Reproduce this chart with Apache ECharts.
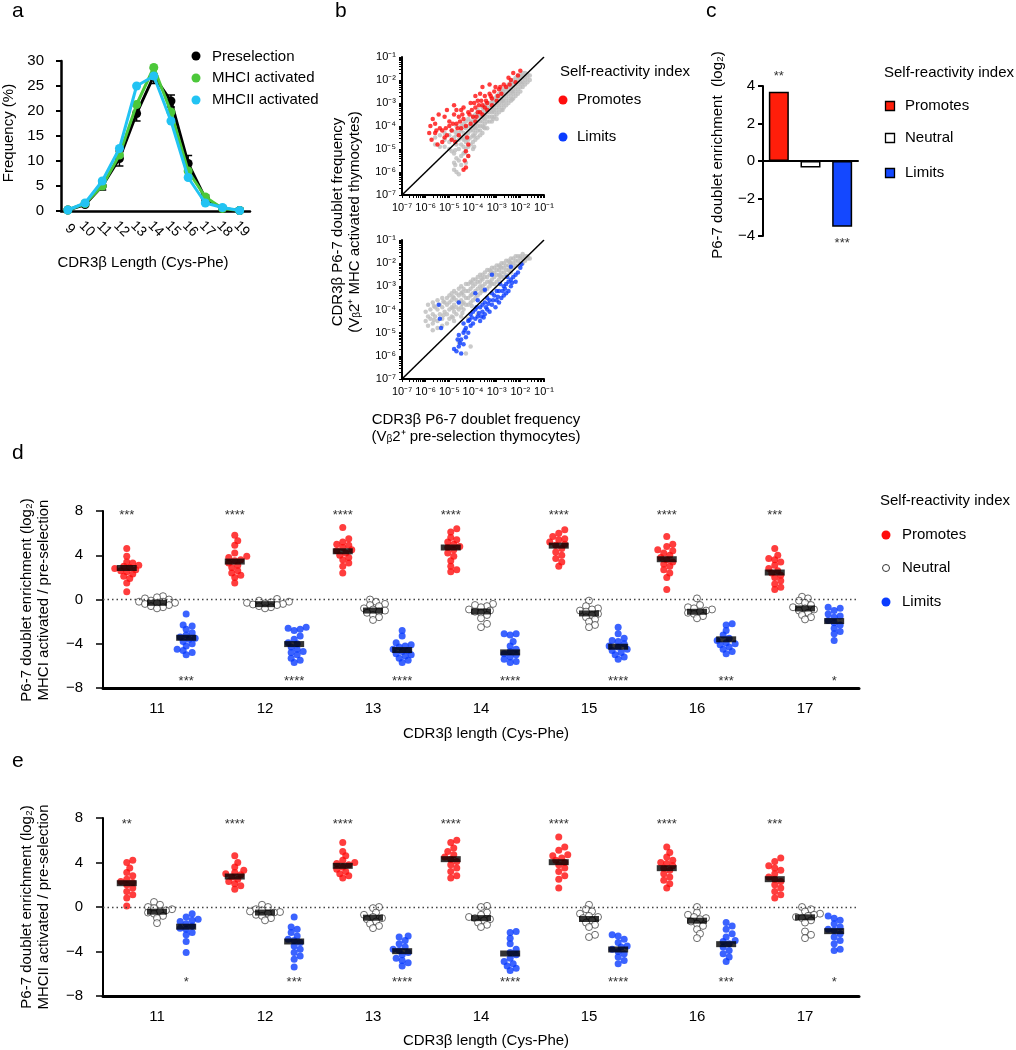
<!DOCTYPE html>
<html><head><meta charset="utf-8">
<script src="https://cdn.jsdelivr.net/npm/echarts@6/dist/echarts.min.js"></script>
<style>html,body{margin:0;padding:0;background:#fff}#c{width:1016px;height:1050px}</style>
</head><body><div id="c"></div>
<script>
const FONT = '"Liberation Sans", Arial, Helvetica, sans-serif';

// ---------- Panel a ----------
const lengthsA = [9,10,11,12,13,14,15,16,17,18,19];
const preselection    = [0.2,1.3,5.0,10.5,19.5,27.0,22.0,9.5,2.5,0.5,0.1];
const preselectionErr = [0.1,0.3,0.8,1.5,1.5,1.5,1.2,1.6,0.7,0.2,0.1];
const mhc1Activated   = [0.2,1.5,5.0,11.2,21.3,28.7,19.8,8.0,2.8,0.5,0.1];
const mhc2Activated   = [0.2,1.6,6.0,12.5,25.0,27.0,18.0,6.7,1.6,0.7,0.1];

// ---------- Panel b (log10 frequencies: [pre-selection, MHC activated]) ----------
const bDecades = [-7,-6,-5,-4,-3,-2,-1];
const grayTopCols = [
 [-5.6,[-4.5,-4.8]],[-5.4,[-4.4,-4.9]],[-5.2,[-4.3,-4.6,-4.9]],[-5.0,[-4.4,-4.7,-5.0]],
 [-4.9,[-4.2,-4.6,-5.1]],[-4.8,[-4.5,-5.2,-5.6,-5.9]],[-4.7,[-4.0,-4.4,-4.8,-5.4,-6.0]],
 [-4.6,[-4.3,-4.6,-5.0,-5.5,-6.1]],[-4.5,[-4.0,-4.2,-4.5,-4.8,-5.3,-5.7]],[-4.4,[-3.9,-4.3,-4.6,-4.9,-5.2]],
 [-4.3,[-3.8,-4.1,-4.4,-4.7,-5.0,-5.6]],[-4.2,[-3.7,-4.0,-4.3,-4.6,-4.9,-5.3]],[-4.1,[-3.8,-4.0,-4.2,-4.5,-4.8]],
 [-4.0,[-3.6,-3.8,-4.0,-4.2,-4.4,-4.7,-5.0]],[-3.9,[-3.5,-3.7,-3.9,-4.1,-4.3,-4.6]],[-3.8,[-3.3,-3.5,-3.8,-4.0,-4.2,-4.5]],
 [-3.7,[-3.4,-3.6,-3.8,-4.0,-4.2,-4.4]],[-3.6,[-3.2,-3.4,-3.6,-3.8,-4.0,-4.3]],[-3.5,[-3.1,-3.3,-3.5,-3.7,-3.9,-4.1]],
 [-3.4,[-3.0,-3.2,-3.4,-3.6,-3.8,-4.1]],[-3.3,[-3.0,-3.2,-3.4,-3.6,-3.8]],[-3.2,[-2.8,-3.0,-3.2,-3.4,-3.6,-3.8]],
 [-3.1,[-2.8,-3.0,-3.2,-3.4,-3.6]],[-3.0,[-2.7,-2.9,-3.1,-3.3,-3.5,-3.7]],[-2.9,[-2.6,-2.8,-3.0,-3.2,-3.4]],
 [-2.8,[-2.5,-2.7,-2.9,-3.1,-3.3]],[-2.7,[-2.4,-2.6,-2.8,-3.0,-3.2]],[-2.6,[-2.3,-2.5,-2.7,-2.9,-3.1]],
 [-2.5,[-2.2,-2.4,-2.6,-2.8,-3.0]],[-2.4,[-2.1,-2.3,-2.5,-2.7,-2.9]],[-2.3,[-2.0,-2.2,-2.4,-2.6,-2.8]],
 [-2.2,[-1.9,-2.1,-2.3,-2.5,-2.7]],[-2.1,[-1.8,-2.0,-2.2,-2.4,-2.6]],[-2.0,[-1.8,-1.95,-2.1,-2.3,-2.5]],
 [-1.9,[-1.7,-1.9,-2.1,-2.3]],[-1.8,[-1.7,-1.85,-2.0,-2.2]],[-1.7,[-1.75,-1.9,-2.1]],[-1.6,[-1.8,-2.0]],
 [-4.75,[-4.25,-4.65,-5.05,-5.7]],[-4.35,[-4.05,-4.55,-5.15]],[-3.95,[-3.65,-4.05,-4.45,-4.9]],[-3.55,[-3.25,-3.65,-4.05]],
 [-3.15,[-2.9,-3.3,-3.7]],[-2.75,[-2.5,-2.9,-3.3]],[-2.35,[-2.1,-2.5,-2.85]],[-1.95,[-1.8,-2.15]]
];
const promotesTop = [
 [-5.8,-4.0],[-5.7,-3.7],[-5.6,-4.3],[-5.75,-4.6],[-5.5,-4.8],[-5.3,-4.7],[-5.6,-3.9],[-5.4,-4.1],[-5.2,-3.6],[-5.1,-4.4],
 [-5.0,-3.8],[-4.9,-4.2],[-4.8,-3.5],[-4.7,-3.9],[-4.6,-4.4],[-4.5,-3.3],[-4.4,-3.7],[-4.3,-4.0],[-4.2,-3.4],[-4.1,-3.0],
 [-4.0,-3.6],[-3.9,-3.2],[-3.8,-2.9],[-3.7,-3.4],[-3.6,-3.1],[-3.5,-2.7],[-3.4,-3.0],[-3.3,-2.6],[-3.2,-2.8],[-3.1,-2.5],
 [-3.0,-2.9],[-2.9,-2.4],[-2.7,-2.2],[-2.5,-1.9],[-2.3,-1.7],[-2.2,-2.1],[-2.0,-1.6],[-2.1,-1.8],[-4.8,-3.1],[-4.6,-3.6],
 [-4.4,-3.2],[-5.1,-3.3],[-4.9,-4.6],[-3.9,-3.8],[-3.6,-3.5],[-3.4,-3.3],[-3.9,-2.7],[-3.7,-2.6],[-4.1,-3.9],[-4.25,-4.5],
 [-4.2,-4.8],[-4.3,-5.1],[-4.35,-5.5],[-4.3,-5.8],[-4.4,-5.9],[-4.2,-5.3],[-3.6,-2.3],[-3.3,-2.2],[-2.8,-2.6],[-5.3,-4.2],
 [-5.0,-4.0],[-4.7,-3.3],[-4.5,-4.1],[-3.8,-3.4],[-3.5,-3.2],[-3.2,-3.1],[-2.6,-2.3],[-2.4,-2.0],[-5.85,-4.3],[-5.45,-3.5],
 [-4.55,-3.8],[-4.15,-3.5],[-3.95,-3.0],[-3.45,-2.9],[-2.95,-2.7],[-5.2,-4.5],[-4.75,-4.7],[-3.75,-3.1],[-3.05,-2.3],[-2.45,-2.2],
 [-5.15,-4.1],[-4.85,-3.9],[-4.45,-3.5],[-4.05,-3.3],[-3.65,-2.9],[-3.25,-2.7],[-2.85,-2.3],[-5.55,-4.2],[-4.65,-4.1],[-3.85,-3.6]
];
const grayBottomCols = [
 [-6.0,[-4.1,-4.5]],[-5.9,[-3.8,-4.3,-4.7]],[-5.8,[-4.0,-4.4]],[-5.7,[-3.7,-4.2,-4.6,-4.9]],[-5.6,[-3.9,-4.3]],
 [-5.5,[-3.6,-4.0,-4.5,-4.8]],[-5.4,[-3.8,-4.2]],[-5.3,[-3.5,-3.9,-4.4,-4.7]],[-5.2,[-3.7,-4.1]],[-5.1,[-3.5,-3.8,-4.2,-4.6]],
 [-5.0,[-3.4,-3.7,-4.0,-4.4]],[-4.9,[-3.3,-3.6,-3.9,-4.3]],[-4.8,[-3.2,-3.5,-3.8,-4.1,-4.5]],[-4.7,[-3.3,-3.6,-3.9,-4.2]],
 [-4.6,[-3.1,-3.4,-3.7,-4.0,-5.4]],[-4.5,[-3.0,-3.3,-3.6,-3.9,-4.3]],[-4.4,[-3.1,-3.4,-3.7,-4.0]],[-4.3,[-2.9,-3.2,-3.5,-3.8,-5.9]],
 [-4.2,[-2.9,-3.2,-3.5,-3.8,-4.4]],[-4.1,[-2.8,-3.1,-3.4,-3.7,-5.6]],[-4.0,[-2.7,-3.0,-3.3,-3.6]],[-3.9,[-2.7,-2.9,-3.2,-3.5]],
 [-3.8,[-2.6,-2.8,-3.1,-3.4,-4.2]],[-3.7,[-2.5,-2.8,-3.0,-3.3]],[-3.6,[-2.5,-2.7,-3.0,-3.2]],[-3.5,[-2.4,-2.6,-2.9,-3.2]],
 [-3.4,[-2.3,-2.6,-2.8,-3.1]],[-3.3,[-2.3,-2.5,-2.8,-3.0]],[-3.2,[-2.2,-2.4,-2.7,-2.9]],[-3.1,[-2.2,-2.4,-2.6,-2.9]],
 [-3.0,[-2.1,-2.3,-2.5,-2.8]],[-2.9,[-2.1,-2.3,-2.5,-2.7]],[-2.8,[-2.0,-2.2,-2.4,-2.6]],[-2.7,[-2.0,-2.2,-2.4,-2.6]],
 [-2.6,[-1.9,-2.1,-2.3,-2.5]],[-2.5,[-1.9,-2.1,-2.3]],[-2.4,[-1.8,-2.0,-2.2,-2.4]],[-2.3,[-1.8,-2.0,-2.2]],
 [-2.2,[-1.7,-1.9,-2.1]],[-2.1,[-1.7,-1.9,-2.1]],[-2.0,[-1.7,-1.8,-2.0]],[-1.9,[-1.6,-1.8,-2.0]],[-1.8,[-1.7,-1.9]],
 [-1.7,[-1.7,-1.8]],[-1.6,[-1.8]],
 [-5.65,[-3.85,-4.45]],[-5.25,[-3.65,-4.25]],[-4.85,[-3.45,-3.95,-4.35]],[-4.45,[-3.25,-3.75,-4.15]],
 [-4.05,[-2.85,-3.35,-3.85]],[-3.65,[-2.65,-3.15]],[-3.25,[-2.35,-2.85]],[-2.85,[-2.15,-2.55]],[-2.45,[-1.95,-2.35]]
];
const limitsBottom = [
 [-4.2,-4.5],[-4.1,-4.2],[-4.0,-4.6],[-3.9,-4.0],[-3.8,-4.3],[-3.7,-3.9],[-3.6,-4.1],[-3.5,-3.7],[-3.4,-4.0],[-3.3,-3.6],
 [-3.2,-3.8],[-3.1,-3.4],[-3.0,-3.6],[-2.9,-3.2],[-2.8,-3.5],[-2.7,-3.0],[-2.6,-3.3],[-2.5,-2.8],[-2.4,-3.0],[-2.3,-2.6],
 [-2.2,-2.8],[-2.1,-2.4],[-2.0,-2.2],[-1.95,-2.05],[-4.0,-4.1],[-3.9,-4.4],[-3.7,-4.5],[-3.6,-3.8],[-3.5,-4.2],[-3.4,-3.5],
 [-3.3,-4.1],[-3.2,-3.3],[-3.0,-3.2],[-2.9,-3.7],[-2.7,-3.4],[-2.5,-3.2],[-2.4,-2.7],[-2.6,-2.9],[-3.8,-3.6],[-4.1,-4.7],
 [-4.3,-4.8],[-4.4,-5.0],[-4.5,-5.3],[-4.6,-5.6],[-4.7,-5.8],[-4.5,-5.9],[-4.4,-5.5],[-4.3,-5.2],[-4.6,-5.1],[-4.8,-5.7],
 [-4.2,-5.0],[-4.4,-4.6],[-5.45,-3.8],[-5.4,-4.4],[-5.35,-4.8],[-4.6,-3.7],[-3.9,-3.3],[-3.5,-3.15],[-3.2,-2.5],[-2.4,-2.15],
 [-3.85,-3.9],[-3.45,-3.9],[-3.15,-3.6],[-2.85,-2.9],[-2.55,-2.6],[-4.05,-4.35],[-3.65,-4.3],[-2.75,-3.2],[-2.2,-2.5],[-4.65,-5.3],
 [-4.15,-4.45],[-3.75,-4.15],[-3.35,-3.75],[-2.95,-3.45],[-2.65,-3.1],[-4.35,-4.9],[-4.55,-5.45],[-3.55,-4.35],[-3.05,-3.9],[-2.35,-2.85]
];

// ---------- Panel c ----------
const cCategories = ['Promotes','Neutral','Limits'];
const cEnrichment = [3.7,-0.35,-3.5];
const cStars = ['**','','***'];

// ---------- Panels d / e ----------
const lengthsDE = [11,12,13,14,15,16,17];
const mhc1Promotes = [
 [4.6,3.9,3.4,3.3,3.1,3.0,2.9,2.8,2.7,2.6,2.5,2.3,2.1,1.9,1.5,0.7],
 [5.8,5.3,4.9,4.2,3.9,3.8,3.6,3.5,3.3,3.1,2.9,2.6,2.4,2.2,2.0,1.5],
 [6.5,5.5,5.2,5.0,4.9,4.7,4.5,4.4,4.2,4.0,3.8,3.6,3.3,3.0,2.4],
 [6.4,6.1,5.6,5.4,5.2,5.0,4.8,4.7,4.5,4.2,3.9,3.5,3.0,2.7,2.5],
 [6.3,6.0,5.7,5.5,5.4,5.2,5.0,4.9,4.6,4.3,4.0,3.7,3.4,3.0],
 [5.7,5.0,4.8,4.5,4.4,4.2,4.0,3.8,3.6,3.4,3.2,3.0,2.7,2.4,2.0,0.9],
 [4.6,4.0,3.7,3.6,3.4,3.1,2.8,2.6,2.4,2.2,2.0,1.7,1.4,1.1,0.9]
];
const mhc1Neutral = [
 [0.3,0.2,0.1,0.0,-0.1,-0.2,-0.2,-0.3,-0.3,-0.4,-0.5,-0.6,-0.7,-0.8],
 [0.05,-0.1,-0.2,-0.25,-0.3,-0.35,-0.4,-0.45,-0.5,-0.6,-0.7,-0.8],
 [0.0,-0.2,-0.4,-0.5,-0.6,-0.8,-0.9,-1.0,-1.1,-1.2,-1.4,-1.6,-1.85],
 [-0.4,-0.5,-0.6,-0.7,-0.9,-1.0,-1.1,-1.2,-1.4,-1.7,-2.2,-2.5],
 [-0.1,-0.6,-0.8,-0.9,-1.0,-1.1,-1.3,-1.4,-1.6,-1.8,-2.0,-2.3,-2.5],
 [0.1,-0.5,-0.7,-0.8,-0.9,-1.0,-1.1,-1.2,-1.3,-1.5,-1.7],
 [0.25,0.1,-0.1,-0.3,-0.5,-0.7,-0.8,-0.9,-1.0,-1.2,-1.4,-1.6,-1.8]
];
const mhc1Limits = [
 [-1.3,-2.3,-2.4,-2.7,-3.0,-3.2,-3.4,-3.5,-3.6,-3.8,-4.0,-4.2,-4.5,-4.6,-4.8,-5.0],
 [-2.5,-2.6,-2.7,-2.8,-3.3,-3.6,-3.9,-4.0,-4.3,-4.5,-4.7,-4.8,-5.0,-5.3,-5.5,-5.7],
 [-2.8,-3.3,-3.9,-4.1,-4.2,-4.3,-4.5,-4.6,-4.7,-4.9,-5.0,-5.1,-5.3,-5.5,-5.7],
 [-3.1,-3.1,-3.2,-3.8,-4.2,-4.5,-4.7,-4.9,-5.0,-5.2,-5.4,-5.6,-5.7],
 [-2.5,-3.1,-3.5,-3.7,-3.8,-4.0,-4.2,-4.3,-4.5,-4.6,-4.8,-5.0,-5.2,-5.4],
 [-2.2,-2.3,-2.8,-3.2,-3.5,-3.7,-3.9,-4.0,-4.1,-4.3,-4.5,-4.7,-4.9],
 [-0.7,-0.8,-1.0,-1.3,-1.5,-1.6,-1.9,-2.1,-2.3,-2.6,-2.9,-3.1,-3.7]
];
const mhc1PromotesMean = [2.85,3.43,4.36,4.70,4.87,3.64,2.44];
const mhc1NeutralMean  = [-0.30,-0.42,-1.00,-1.08,-1.26,-1.11,-0.81];
const mhc1LimitsMean   = [-3.46,-4.03,-4.57,-4.78,-4.27,-3.60,-1.95];
const mhc1PromotesStars = ['***','****','****','****','****','****','***'];
const mhc1LimitsStars   = ['***','****','****','****','****','***','*'];

const mhc2Promotes = [
 [4.2,4.0,3.5,3.1,2.8,2.5,2.3,2.2,2.0,1.7,1.4,1.1,0.8,0.1],
 [4.6,4.0,3.6,3.3,3.1,3.0,2.9,2.7,2.5,2.3,2.1,1.9,1.6],
 [5.8,5.0,4.6,4.2,4.0,3.9,3.8,3.6,3.4,3.2,3.0,2.8,2.6],
 [6.0,5.8,5.3,5.0,4.7,4.5,4.3,4.1,3.8,3.5,3.2,2.8,2.6],
 [6.3,5.4,5.1,4.7,4.6,4.4,4.2,4.0,3.8,3.5,3.2,2.8,2.5,1.7],
 [5.4,4.9,4.5,4.2,4.0,3.9,3.7,3.5,3.3,3.0,2.7,2.4,2.1,1.7],
 [4.4,4.1,3.7,3.5,3.3,3.0,2.7,2.5,2.3,2.0,1.7,1.4,1.1,0.8]
];
const mhc2Neutral = [
 [0.45,0.2,0.0,-0.1,-0.2,-0.3,-0.4,-0.5,-0.6,-0.8,-1.0,-1.45],
 [0.2,0.0,-0.2,-0.3,-0.4,-0.45,-0.5,-0.6,-0.7,-0.8,-1.0,-1.2],
 [0.0,-0.1,-0.5,-0.7,-0.9,-1.0,-1.1,-1.3,-1.5,-1.7,-1.9],
 [0.1,0.0,-0.5,-0.7,-0.9,-1.0,-1.1,-1.2,-1.4,-1.6,-1.8],
 [0.2,-0.2,-0.4,-0.6,-0.8,-0.9,-1.0,-1.2,-1.4,-1.6,-1.8,-2.5,-2.7],
 [0.0,-0.5,-0.7,-0.9,-1.0,-1.1,-1.3,-1.5,-1.7,-2.0,-2.4,-2.8],
 [0.0,-0.2,-0.4,-0.6,-0.7,-0.8,-0.9,-1.0,-1.2,-1.4,-2.2,-2.5,-2.8]
];
const mhc2Limits = [
 [-0.6,-0.9,-1.1,-1.2,-1.3,-1.5,-1.7,-1.9,-2.0,-2.3,-2.5,-3.1,-4.1],
 [-0.9,-1.8,-2.0,-2.3,-2.6,-2.9,-3.0,-3.2,-3.5,-3.8,-4.1,-4.4,-4.7,-5.4],
 [-2.6,-2.7,-3.0,-3.3,-3.6,-3.8,-3.9,-4.1,-4.3,-4.6,-4.8,-5.0,-5.3],
 [-2.2,-2.3,-2.8,-3.3,-3.8,-4.1,-4.3,-4.6,-4.9,-5.1,-5.3,-5.5,-5.7],
 [-2.5,-2.6,-2.9,-3.2,-3.5,-3.6,-3.8,-4.0,-4.2,-4.5,-4.8,-5.1],
 [-1.4,-1.7,-2.0,-2.4,-2.7,-3.0,-3.1,-3.3,-3.6,-3.9,-4.2,-4.5,-4.9],
 [-0.8,-1.0,-1.2,-1.5,-1.8,-2.0,-2.1,-2.4,-2.7,-3.0,-3.3,-3.8,-3.9]
];
const mhc2PromotesMean = [2.14,2.74,3.70,4.30,4.03,3.49,2.50];
const mhc2NeutralMean  = [-0.42,-0.50,-0.96,-1.00,-1.08,-1.23,-0.93];
const mhc2LimitsMean   = [-1.77,-3.10,-3.97,-4.18,-3.82,-3.34,-2.17];
const mhc2PromotesStars = ['**','****','****','****','****','****','***'];
const mhc2LimitsStars   = ['*','***','****','****','****','***','*'];

// ---------- helpers ----------
const RED = '#ff0d0d', BLUE = '#0a3cff', GRAY = '#bdbdbd';
const SUP = {'-':'\u207B','0':'\u2070','1':'\u00B9','2':'\u00B2','3':'\u00B3','4':'\u2074','5':'\u2075','6':'\u2076','7':'\u2077','8':'\u2078','9':'\u2079'};
const pow10Label = v => '10' + String(Math.round(v)).split('').map(c => SUP[c]).join('');
const fmtNum = v => v < 0 ? '\u2212' + Math.abs(v) : String(v);
const logMinor = [];
for (let n = -7; n < -1; n++) for (let k = 1; k <= 9; k++) logMinor.push(n + Math.log10(k));
logMinor.push(-1);
const flattenCols = cols => cols.flatMap(([x, ys]) => ys.map(y => [x, y]));

// beeswarm layout: horizontal offsets so dots do not pile on each other
function swarm(values, center, pxX, pxY, diam, step) {
  const idx = values.map((_, i) => i).sort((a, b) => values[a] - values[b]);
  const placed = [], out = [];
  idx.forEach(i => {
    const py = values[i] * pxY;
    let off = 0;
    for (let k = 0; k < 60; k++) {
      const cand = k === 0 ? 0 : (k % 2 ? 1 : -1) * Math.ceil(k / 2) * step;
      if (placed.every(p => (p[0] - cand) ** 2 + (p[1] - py) ** 2 >= diam * diam)) { off = cand; break; }
    }
    placed.push([off, py]);
    out[i] = [center + off / pxX, values[i]];
  });
  return out;
}

const grids = [
  {left: 61,  top: 61,  width: 189, height: 150},
  {left: 402, top: 57,  width: 142, height: 138},
  {left: 402, top: 240, width: 142, height: 139},
  {left: 763, top: 86,  width: 95,  height: 150},
  {left: 103, top: 511, width: 756, height: 177},
  {left: 103, top: 818, width: 756, height: 178}
];

function starSeries(gi, items, fontSize) {
  return {
    type: 'custom', xAxisIndex: gi, yAxisIndex: gi, z: 6, silent: true,
    data: items.map(it => [it[0], it[1]]),
    renderItem: (params, api) => {
      const p = api.coord([api.value(0), api.value(1)]);
      return {type: 'text', x: p[0], y: p[1], style: {text: items[params.dataIndex][2], font: fontSize + 'px ' + FONT, fill: '#333', align: 'center', verticalAlign: 'middle', textAlign: 'center', textVerticalAlign: 'middle'}};
    }
  };
}

// rotated tick labels for panel a, placed through the axis scale
const rotatedAxisLabels = {
  type: 'custom', xAxisIndex: 0, yAxisIndex: 0, z: 6, silent: true, clip: false,
  data: lengthsA.map(x => [x, 0]),
  renderItem: (params, api) => {
    const p = api.coord([api.value(0), api.value(1)]);
    return {type: 'text', x: p[0] + 2, y: p[1] + 18, rotation: -Math.PI / 4,
      style: {text: String(lengthsA[params.dataIndex]), font: '14px ' + FONT, fill: '#000',
        align: 'center', verticalAlign: 'middle', textAlign: 'center', textVerticalAlign: 'middle'}};
  }
};

const OFF = {promotes: -0.28, neutral: 0, limits: 0.27};
function dotPanel(gi, promotes, neutral, limits, pM, nM, lM, pStars, lStars, starTop, starBottom) {
  const g = grids[gi];
  const pxX = g.width / 7, pxY = g.height / 16;
  const build = (groups, off) => groups.flatMap((vals, ci) => swarm(vals, lengthsDE[ci] + off, pxX, pxY, 4.6, 3));
  const means = [];
  lengthsDE.forEach((L, i) => {
    means.push([L + OFF.promotes, pM[i]]);
    means.push([L + OFF.neutral, nM[i]]);
    means.push([L + OFF.limits, lM[i]]);
  });
  return [
    {type: 'scatter', xAxisIndex: gi, yAxisIndex: gi, symbol: 'circle', symbolSize: 7, z: 3,
     itemStyle: {color: '#fff', borderColor: '#333', borderWidth: 0.9},
     data: build(neutral, OFF.neutral),
     markLine: {silent: true, symbol: 'none', label: {show: false}, lineStyle: {type: [1.5, 3], color: '#444', width: 1.3}, data: [{yAxis: 0}]}},
    {type: 'scatter', xAxisIndex: gi, yAxisIndex: gi, symbol: 'circle', symbolSize: 7, z: 3,
     itemStyle: {color: RED}, data: build(promotes, OFF.promotes)},
    {type: 'scatter', xAxisIndex: gi, yAxisIndex: gi, symbol: 'circle', symbolSize: 7, z: 3,
     itemStyle: {color: BLUE}, data: build(limits, OFF.limits)},
    {type: 'scatter', xAxisIndex: gi, yAxisIndex: gi, symbol: 'rect', symbolSize: [20, 6], z: 5,
     itemStyle: {color: '#000'}, data: means},
    starSeries(gi, lengthsDE.map((L, i) => [L + OFF.promotes, starTop, pStars[i]]), 13),
    starSeries(gi, lengthsDE.map((L, i) => [L + OFF.limits, starBottom, lStars[i]]), 13)
  ];
}

function errorBars(gi, xs, ys, es) {
  return {
    type: 'custom', xAxisIndex: gi, yAxisIndex: gi, z: 1, silent: true,
    data: xs.map((x, i) => [x, ys[i], es[i]]),
    renderItem: (params, api) => {
      const x = api.value(0), y = api.value(1), e = api.value(2);
      const t = api.coord([x, y + e]), b = api.coord([x, Math.max(0, y - e)]);
      const st = {stroke: '#000', lineWidth: 1.5};
      return {type: 'group', children: [
        {type: 'line', shape: {x1: t[0], y1: t[1], x2: b[0], y2: b[1]}, style: st},
        {type: 'line', shape: {x1: t[0] - 4, y1: t[1], x2: t[0] + 4, y2: t[1]}, style: st},
        {type: 'line', shape: {x1: b[0] - 4, y1: b[1], x2: b[0] + 4, y2: b[1]}, style: st}
      ]};
    }
  };
}

const logAxis = (gi, isX) => ({
  gridIndex: gi, type: 'value', min: -7, max: -1,
  axisLine: {onZero: false, lineStyle: {color: '#000', width: 2}},
  axisTick: {show: true, customValues: logMinor, length: 3, lineStyle: {color: '#000', width: 1}},
  axisLabel: {customValues: bDecades, formatter: pow10Label, fontSize: 11, color: '#000', margin: isX ? 7 : 6},
  splitLine: {show: false}
});
const dotX = gi => ({gridIndex: gi, type: 'value', min: 10.5, max: 17.5,
  axisLine: {onZero: false, lineStyle: {color: '#000', width: 3}}, axisTick: {show: false},
  axisLabel: {customValues: lengthsDE, fontSize: 15, color: '#000', margin: 13}, splitLine: {show: false}});
const dotY = gi => ({gridIndex: gi, type: 'value', min: -8, max: 8, interval: 4,
  axisLine: {show: true, lineStyle: {color: '#000', width: 2}},
  axisTick: {show: true, length: 7, lineStyle: {color: '#000', width: 1.5}},
  axisLabel: {formatter: fmtNum, fontSize: 15, color: '#000', margin: 20}, splitLine: {show: false}});

const series = [
  // a
  errorBars(0, lengthsA, preselection, preselectionErr),
  {type: 'line', xAxisIndex: 0, yAxisIndex: 0, z: 2, data: lengthsA.map((x, i) => [x, preselection[i]]),
   symbol: 'circle', symbolSize: 9, lineStyle: {color: '#000', width: 3}, itemStyle: {color: '#000'}},
  {type: 'line', xAxisIndex: 0, yAxisIndex: 0, z: 3, data: lengthsA.map((x, i) => [x, mhc1Activated[i]]),
   symbol: 'circle', symbolSize: 9, lineStyle: {color: '#4cc83a', width: 3}, itemStyle: {color: '#4cc83a'}},
  {type: 'line', xAxisIndex: 0, yAxisIndex: 0, z: 4, data: lengthsA.map((x, i) => [x, mhc2Activated[i]]),
   symbol: 'circle', symbolSize: 9, lineStyle: {color: '#22c3f3', width: 3}, itemStyle: {color: '#22c3f3'}},
  rotatedAxisLabels,
  // b top
  {type: 'scatter', xAxisIndex: 1, yAxisIndex: 1, symbolSize: 4.5, itemStyle: {color: GRAY}, data: flattenCols(grayTopCols)},
  {type: 'scatter', xAxisIndex: 1, yAxisIndex: 1, symbolSize: 4.5, itemStyle: {color: RED}, data: promotesTop},
  {type: 'line', xAxisIndex: 1, yAxisIndex: 1, z: 5, symbol: 'none', lineStyle: {color: '#000', width: 1.5},
   data: [[bDecades[0], bDecades[0]], [bDecades[6], bDecades[6]]]},
  // b bottom
  {type: 'scatter', xAxisIndex: 2, yAxisIndex: 2, symbolSize: 4.5, itemStyle: {color: GRAY}, data: flattenCols(grayBottomCols)},
  {type: 'scatter', xAxisIndex: 2, yAxisIndex: 2, symbolSize: 4.5, itemStyle: {color: BLUE}, data: limitsBottom},
  {type: 'line', xAxisIndex: 2, yAxisIndex: 2, z: 5, symbol: 'none', lineStyle: {color: '#000', width: 1.5},
   data: [[bDecades[0], bDecades[0]], [bDecades[6], bDecades[6]]]},
  // c
  {type: 'bar', xAxisIndex: 3, yAxisIndex: 3, barWidth: 20,
   data: cEnrichment.map((v, i) => ({value: v, itemStyle: {color: ['#ff1e0a', '#ffffff', '#1448ff'][i], borderColor: '#000', borderWidth: 1.5}}))},
  starSeries(3, [[0, 4.5, cStars[0]], [2, -4.4, cStars[2]]], 13),
  // d, e
  ...dotPanel(4, mhc1Promotes, mhc1Neutral, mhc1Limits, mhc1PromotesMean, mhc1NeutralMean, mhc1LimitsMean, mhc1PromotesStars, mhc1LimitsStars, 7.6, -7.37),
  ...dotPanel(5, mhc2Promotes, mhc2Neutral, mhc2Limits, mhc2PromotesMean, mhc2NeutralMean, mhc2LimitsMean, mhc2PromotesStars, mhc2LimitsStars, 7.46, -6.8)
];

// ---------- graphic text ----------
function txt(x, y, text, size, opts) {
  opts = opts || {};
  return {type: 'text', x: x, y: y, rotation: opts.rot || 0, z: 10, silent: true,
    style: {text: text, font: size + 'px ' + FONT, fill: '#000',
      align: opts.align || 'left', textAlign: opts.align || 'left',
      verticalAlign: 'middle', textVerticalAlign: 'middle'}};
}
const R90 = Math.PI / 2;
const dot = (x, y, fill, stroke) => ({type: 'circle', shape: {cx: x, cy: y, r: stroke ? 3.5 : 4.5}, z: 10, silent: true,
  style: {fill: fill, stroke: stroke || null, lineWidth: stroke ? 1 : 0}});
const sq = (x, y, fill) => ({type: 'rect', shape: {x: x - 4.5, y: y - 4.5, width: 9, height: 9}, z: 10, silent: true,
  style: {fill: fill, stroke: '#000', lineWidth: 1.3}});

const graphic = [
  txt(12, 11, 'a', 21), txt(335, 11, 'b', 21), txt(706, 11, 'c', 21), txt(12, 453, 'd', 21), txt(12, 761, 'e', 21),
  // a
  txt(9, 133, 'Frequency (%)', 15, {rot: R90, align: 'center'}),
  txt(143, 263, 'CDR3\u03B2 Length (Cys-Phe)', 15, {align: 'center'}),
  dot(196, 56, '#000'), txt(212, 57, 'Preselection', 15),
  dot(196, 78, '#4cc83a'), txt(212, 78, 'MHCI activated', 15),
  dot(196, 100, '#22c3f3'), txt(212, 100, 'MHCII activated', 15),
  // b
  txt(338, 222, 'CDR3\u03B2 P6-7 doublet frequency', 15, {rot: R90, align: 'center'}),
  txt(355, 222, '(V\u1D662\u207A MHC activated thymocytes)', 15, {rot: R90, align: 'center'}),
  txt(476, 420, 'CDR3\u03B2 P6-7 doublet frequency', 15, {align: 'center'}),
  txt(476, 437, '(V\u1D662\u207A pre-selection thymocytes)', 15, {align: 'center'}),
  txt(560, 72, 'Self-reactivity index', 15),
  dot(563, 100, RED), txt(577, 100, 'Promotes', 15),
  dot(563, 137, BLUE), txt(577, 137, 'Limits', 15),
  // c
  txt(718, 155, 'P6-7 doublet enrichment  (log\u2082)', 15, {rot: R90, align: 'center'}),
  txt(884, 73, 'Self-reactivity index', 15),
  sq(890, 106, '#ff1e0a'), txt(905, 106, 'Promotes', 15),
  sq(890, 138, '#ffffff'), txt(905, 138, 'Neutral', 15),
  sq(890, 173, '#1448ff'), txt(905, 173, 'Limits', 15),
  // d
  txt(27, 600, 'P6-7 doublet enrichment (log\u2082)', 15, {rot: R90, align: 'center'}),
  txt(44, 600, 'MHCI activated / pre-selection', 15, {rot: R90, align: 'center'}),
  txt(486, 734, 'CDR3\u03B2 length (Cys-Phe)', 15, {align: 'center'}),
  txt(880, 501, 'Self-reactivity index', 15),
  dot(886, 535, RED), txt(902, 535, 'Promotes', 15),
  dot(886, 568, '#fff', '#333'), txt(902, 568, 'Neutral', 15),
  dot(886, 602, BLUE), txt(902, 602, 'Limits', 15),
  // e
  txt(27, 907, 'P6-7 doublet enrichment (log\u2082)', 15, {rot: R90, align: 'center'}),
  txt(44, 907, 'MHCII activated / pre-selection', 15, {rot: R90, align: 'center'}),
  txt(486, 1041, 'CDR3\u03B2 length (Cys-Phe)', 15, {align: 'center'})
];

const option = {
  animation: false,
  textStyle: {fontFamily: FONT, color: '#000'},
  grid: grids,
  xAxis: [
    {gridIndex: 0, type: 'value', min: 8.6, max: 19.6,
     axisLine: {onZero: false, lineStyle: {color: '#000', width: 2.5}}, axisTick: {show: false}, splitLine: {show: false},
     axisLabel: {show: false}},
    logAxis(1, true), logAxis(2, true),
    {gridIndex: 3, type: 'category', data: cCategories, axisLine: {onZero: true, lineStyle: {color: '#000', width: 2}},
     axisTick: {show: false}, axisLabel: {show: false}},
    dotX(4), dotX(5)
  ],
  yAxis: [
    {gridIndex: 0, type: 'value', min: 0, max: 30, interval: 5,
     axisLine: {show: true, lineStyle: {color: '#000', width: 2.5}},
     axisTick: {show: true, length: 5, lineStyle: {color: '#000', width: 2}},
     axisLabel: {fontSize: 15, color: '#000', margin: 17}, splitLine: {show: false}},
    logAxis(1, false), logAxis(2, false),
    {gridIndex: 3, type: 'value', min: -4, max: 4, interval: 2,
     axisLine: {show: true, lineStyle: {color: '#000', width: 2}},
     axisTick: {show: true, length: 5, lineStyle: {color: '#000', width: 2}},
     axisLabel: {formatter: fmtNum, fontSize: 15, color: '#000', margin: 8}, splitLine: {show: false}},
    dotY(4), dotY(5)
  ],
  series: series,
  graphic: graphic
};

const chart = echarts.init(document.getElementById('c'), null, {renderer: 'canvas'});
chart.setOption(option);
</script>
</body></html>
